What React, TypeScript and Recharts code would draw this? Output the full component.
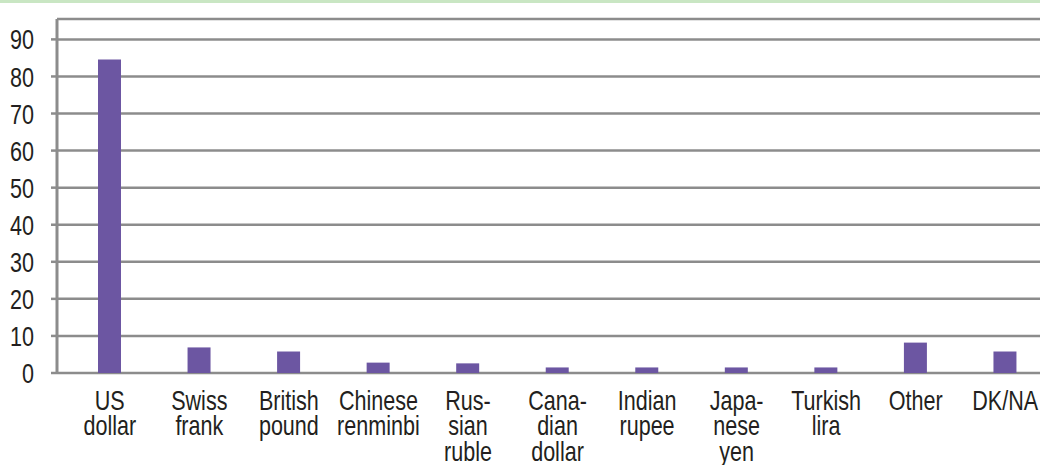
import { BarChart, Bar, XAxis, YAxis, CartesianGrid } from 'recharts';

const CATEGORIES = [
  'US\ndollar',
  'Swiss\nfrank',
  'British\npound',
  'Chinese\nrenminbi',
  'Rus-\nsian\nruble',
  'Cana-\ndian\ndollar',
  'Indian\nrupee',
  'Japa-\nnese\nyen',
  'Turkish\nlira',
  'Other',
  'DK/NA',
];
const SHARE = [84.6, 6.9, 5.8, 2.8, 2.6, 1.5, 1.5, 1.5, 1.5, 8.2, 5.8];
const Y_TICKS = [0, 10, 20, 30, 40, 50, 60, 70, 80, 90];

const data = CATEGORIES.map((c, i) => ({ x: c, v: SHARE[i] }));

// no condensed face available, so squeeze a regular one horizontally
const FONT = '"Liberation Sans", Arial, sans-serif';
const SQUEEZE = 0.77;
const FS = 28;
const GRID = '#8c8c8c';
const TEXT = '#231f20';
const BAR = '#6c56a2';

function XTick(props: any) {
  const { x, y, payload } = props;
  const lines = String(payload.value).split('\n');
  return (
    <text transform={`translate(${x},${y}) scale(${SQUEEZE},1)`} x={0} y={0} textAnchor="middle" fill={TEXT} fontFamily={FONT} fontSize={FS}>
      {lines.map((l, i) => (
        <tspan key={i} x={0} dy={i === 0 ? 37 : 25.5}>{l}</tspan>
      ))}
    </text>
  );
}

function YTick(props: any) {
  const { x, y, payload } = props;
  return (
    <text transform={`translate(${x},${y}) scale(${SQUEEZE},1)`} x={0} y={0} dy="0.36em" textAnchor="end" fill={TEXT} fontFamily={FONT} fontSize={FS}>
      {payload.value}
    </text>
  );
}

export default function App() {
  return (
    <div style={{ position: 'absolute', left: 0, top: 0, width: 1040, height: 465, overflow: 'hidden', background: '#fff' }}>
      <div style={{ position: 'absolute', left: 0, top: 0, width: 1040, height: 3, background: '#c9e6c3' }} />
      <BarChart width={1050} height={465} data={data} margin={{ top: 19, right: 0, left: 0, bottom: 0 }}>
        <CartesianGrid vertical={false} stroke={GRID} strokeWidth={2.5} />
        <XAxis
          dataKey="x"
          interval={0}
          axisLine={false}
          tickLine={false}
          tickSize={0}
          tickMargin={0}
          padding={{ left: 8, right: 0 }}
          tick={<XTick />}
          height={92}
        />
        <YAxis
          width={57}
          domain={[0, 95.5]}
          ticks={Y_TICKS}
          interval={0}
          axisLine={{ stroke: GRID, strokeWidth: 3 }}
          tickLine={{ stroke: GRID, strokeWidth: 2.5 }}
          tickSize={6}
          tickMargin={17}
          tick={<YTick />}
        />
        <Bar dataKey="v" fill={BAR} barSize={23} isAnimationActive={false} />
      </BarChart>
    </div>
  );
}
